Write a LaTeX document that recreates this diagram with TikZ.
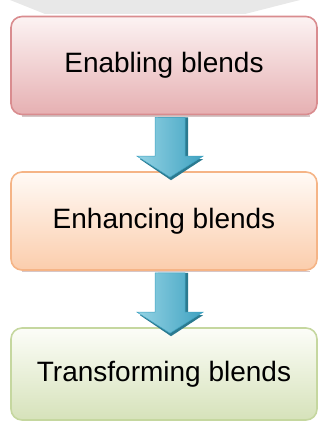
\documentclass[tikz,border=0pt]{standalone}
\usepackage{fontspec}
\setmainfont{Liberation Sans}
\usetikzlibrary{calc}

\definecolor{pinkedge}{HTML}{D98C8F}
\definecolor{pinktop}{HTML}{FCF3F3}
\definecolor{pinkbot}{HTML}{E6B0B2}
\definecolor{orangeedge}{HTML}{F5B486}
\definecolor{orangetop}{HTML}{FFFAF6}
\definecolor{orangebot}{HTML}{FBCDAC}
\definecolor{greenedge}{HTML}{C5D79F}
\definecolor{greentop}{HTML}{FCFDF8}
\definecolor{greenbot}{HTML}{D6E2BA}
\definecolor{arrowlight}{HTML}{95D3E4}
\definecolor{arrowdark}{HTML}{3FA2C1}
\definecolor{arrowshade}{HTML}{2B7A90}

\tikzset{
  stage/.style={rounded corners=11pt, line width=1.6pt, minimum width=306pt,
    minimum height=98pt, inner sep=0pt, font=\fontsize{28}{30}\selectfont},
  enable/.style={stage, draw=pinkedge, top color=pinktop, bottom color=pinkbot},
  enhance/.style={stage, draw=orangeedge, top color=orangetop, bottom color=orangebot},
  transform/.style={stage, draw=greenedge, top color=greentop, bottom color=greenbot, minimum height=92pt},
  rimline/.style={line width=1.6pt, draw=pinkedge!60!black!60, opacity=0.55},
  flowshadow/.style={fill=arrowshade},
  flowbody/.style={left color=arrowlight, right color=arrowdark, draw=arrowdark, line width=0.5pt}
}

\begin{document}
\begin{tikzpicture}[x=1pt,y=1pt]
    \useasboundingbox (0,0) rectangle (320,-422);

    % faint backdrop at the top
    \fill[black!9] (10,0) -- (300,0) -- (245,-14) -- (45,-14) -- cycle;

    \node[enable]    (b1) at (164,-65.5) {Enabling blends};
    \node[enhance]   (b2) at (164,-221)  {Enhancing blends};
    \node[transform] (b3) at (164,-374)  {Transforming blends};

    \draw[rimline] ($(b1.south west)+(12,-0.8)$) -- ($(b1.south east)+(-8,-0.8)$);
    \draw[rimline] ($(b2.south west)+(12,-0.8)$) -- ($(b2.south east)+(-8,-0.8)$);

    \foreach \from/\to in {b1/b2, b2/b3} {
      \coordinate (top) at ($(\from.south)+(6,-2)$);
      \coordinate (tip) at ($(\to.north)+(6,-6)$);
      \fill[flowshadow] ($(top)+(-12,0)$) -- ($(top)+(18,0)$) -- ($(tip)+(18,18)$)
        -- ($(tip)+(33,18)$) -- ($(tip)+(1,-3)$) -- ($(tip)+(-30,18)$)
        -- ($(tip)+(-12,18)$) -- cycle;
      \draw[flowbody] ($(top)+(-15,0)$) -- ($(top)+(15,0)$) -- ($(tip)+(15,21)$)
        -- ($(tip)+(33,21)$) -- (tip) -- ($(tip)+(-33,21)$) -- ($(tip)+(-15,21)$) -- cycle;
    }
\end{tikzpicture}
\end{document}
